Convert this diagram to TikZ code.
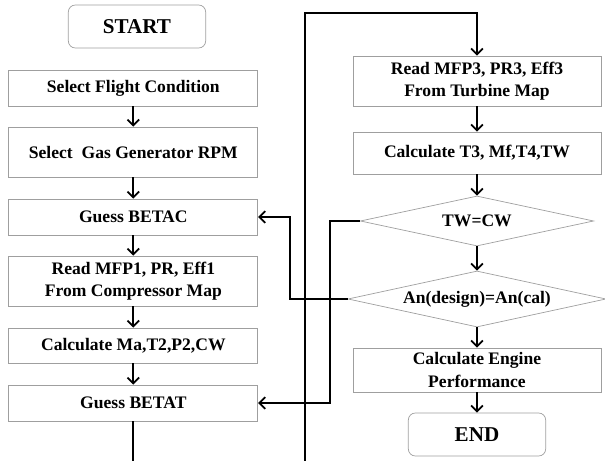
\documentclass[tikz,border=0pt]{standalone}
\usepackage{fontspec}
\setmainfont{Liberation Serif}
\usetikzlibrary{shapes.geometric,arrows.meta}

\begin{document}
\begin{tikzpicture}[
    box/.style={rectangle, draw=gray!75, line width=0.6pt, minimum width=7.47cm, align=center, inner sep=1pt, font=\bfseries\fontsize{15}{19}\selectfont},
    rbox/.style={box, minimum width=7.44cm},
    endbox/.style={rectangle, draw=gray!75, line width=0.6pt, rounded corners=6pt, minimum width=4.12cm, minimum height=1.29cm, font=\bfseries\fontsize{18}{22}\selectfont},
    decision/.style={diamond, draw=gray!75, line width=0.6pt, inner sep=0pt, font=\bfseries\fontsize{15}{19}\selectfont},
    arrow/.style={-{Straight Barb[length=5pt,width=10pt]}, line width=1.5pt},
    link/.style={line width=1.5pt}
]
\useasboundingbox (0,0) rectangle (18.15,13.83);

% Part 1: Compressor side
\node[endbox] (start) at (4.11,13.035) {START};
\node[box, minimum height=1.08cm] (flight) at (4.0,11.19) {Select Flight Condition};
\node[box, minimum height=1.5cm] (rpm) at (4.0,9.27) {Select\ \ Gas Generator RPM};
\node[box, minimum height=1.08cm] (betac) at (4.0,7.32) {Guess BETAC};
\node[box, minimum height=1.5cm] (mfp1) at (4.0,5.40) {Read MFP1, PR, Eff1\\From Compressor Map};
\node[box, minimum height=1.05cm] (calcma) at (4.0,3.465) {Calculate Ma,T2,P2,CW};
\node[box, minimum height=1.08cm] (betat) at (4.0,1.74) {Guess BETAT};
\draw[arrow] (flight) -- (rpm);
\draw[arrow] (rpm) -- (betac);
\draw[arrow] (betac) -- (mfp1);
\draw[arrow] (mfp1) -- (calcma);
\draw[arrow] (calcma) -- (betat);

% Part 2: Turbine side
\node[rbox, minimum height=1.5cm] (mfp3) at (14.31,11.4) {Read MFP3, PR3, Eff3\\From Turbine Map};
\node[rbox, minimum height=1.26cm] (calct3) at (14.31,9.24) {Calculate T3, Mf,T4,TW};
\node[decision, aspect=4.67, minimum width=7.0cm, minimum height=1.5cm] (twcw) at (14.31,7.2) {TW=CW};
\node[decision, aspect=4.6, minimum width=7.74cm, minimum height=1.68cm] (an) at (14.31,4.86) {An(design)=An(cal)};
\node[rbox, minimum height=1.32cm] (perf) at (14.31,2.73) {Calculate Engine\\Performance};
\node[endbox] (end) at (14.31,0.795) {END};
\draw[arrow] (mfp3) -- (calct3);
\draw[arrow] (calct3) -- (twcw);
\draw[arrow] (twcw) -- (an);
\draw[arrow] (an) -- (perf);
\draw[arrow] (perf) -- (end);

% Part 3: Loops and links
\coordinate (out) at (4.0,0);
\coordinate (feed) at (9.15,0);
\coordinate (top) at (14.31,13.44);
\draw[link] (betat) -- (out);
\draw[arrow] (feed) |- (top) -- (mfp3);
\draw[arrow] (twcw.west) -- ++(-0.91,0) |- (betat.east);
\draw[arrow] (an.west) -- ++(-1.74,0) |- (betac.east);

\end{tikzpicture}
\end{document}
